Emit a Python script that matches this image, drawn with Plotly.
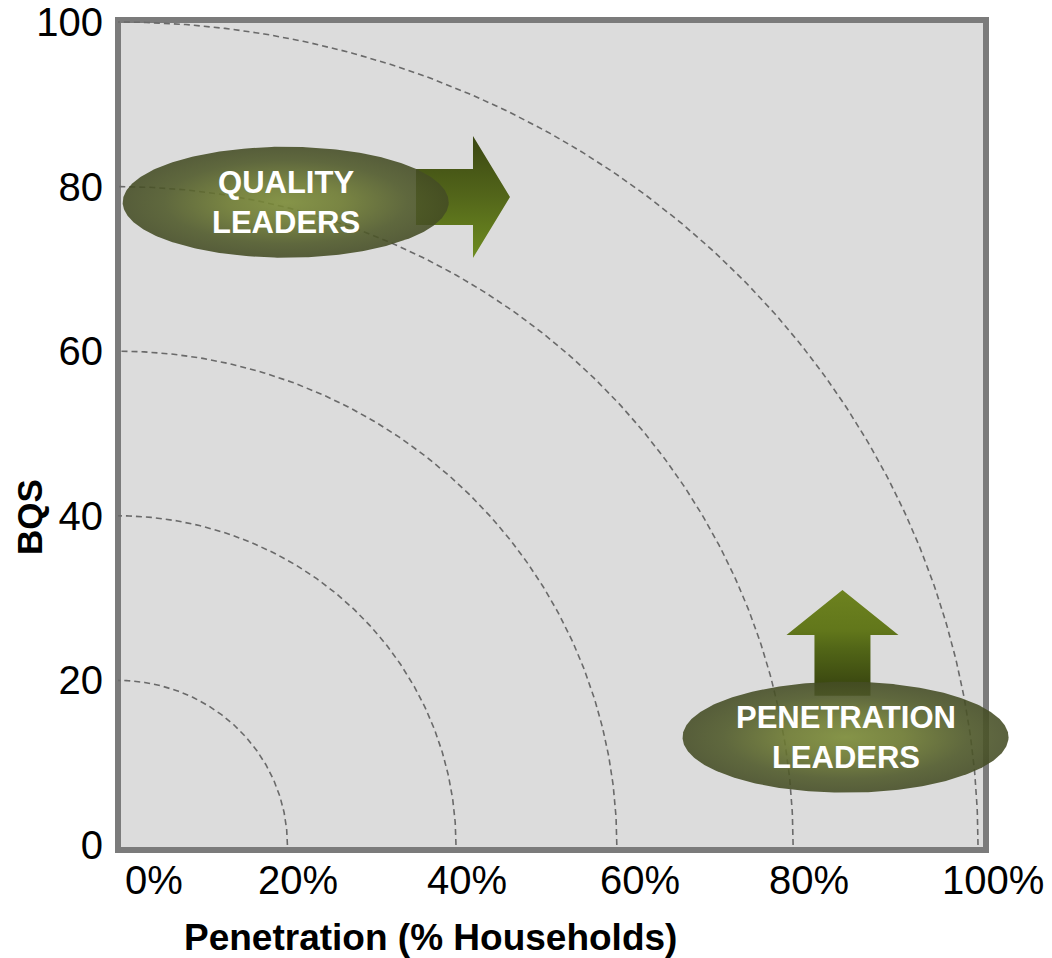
import numpy as np
import plotly.graph_objects as go

# ---------------- data ----------------
arc_levels = [20, 40, 60, 80, 100]                 # iso-lines (BQS value where each arc meets the y axis)
arc_x_reach = [19.7, 39.3, 58.0, 78.5, 100.0]      # penetration (%) where each arc meets the x axis
x_tick_values = [0, 20, 40, 60, 80, 100]
x_tick_labels = ["0%", "20%", "40%", "60%", "80%", "100%"]
y_tick_values = [0, 20, 40, 60, 80, 100]
y_tick_labels = ["0", "20", "40", "60", "80", "100"]

group_names = ["QUALITY<br>LEADERS", "PENETRATION<br>LEADERS"]
group_pen = [19.5, 84.6]      # centre, penetration %
group_bqs = [78.1, 13.1]      # centre, BQS

# arrows: (start, end) along their direction
quality_arrow_pen = [34.65, 45.58]   # horizontal arrow, from -> to (penetration)
quality_arrow_bqs = 78.74
pen_arrow_bqs = [18.14, 30.98]       # vertical arrow, from -> to (BQS)
pen_arrow_pen = 84.24

# ---------------- geometry / scales ----------------
W, H = 1052, 958
ML, MR, MT, MB = 118, 12, 20, 108
PX_X = 8.6      # px per penetration unit
PX_Y = 8.23     # px per BQS unit
pw, ph = W - ML - MR, H - MT - MB
x_range = [0, pw / PX_X]
y_min = -5 / PX_Y
y_range = [y_min, y_min + ph / PX_Y]
frame_right = 868 / PX_X

def px(xd):
    return (xd - x_range[0]) / (x_range[1] - x_range[0])

def py(yd):
    return (yd - y_range[0]) / (y_range[1] - y_range[0])

FONT = "Liberation Sans, Arial, sans-serif"

fig = go.Figure()

# iso arcs
theta = np.linspace(0, np.pi / 2, 240)
for lev, reach in zip(arc_levels, arc_x_reach):
    fig.add_trace(go.Scatter(
        x=reach * np.cos(theta), y=lev * np.sin(theta), mode="lines",
        line=dict(color="#6a6a6a", width=1.6, dash="6px,4px"),
        hoverinfo="skip", showlegend=False))

# arrows (behind ellipses)
bh, hh = 28 / PX_Y, 61 / PX_Y
x0, x1 = quality_arrow_pen
hb = x1 - 37 / PX_X
yc = quality_arrow_bqs
fig.add_trace(go.Scatter(
    x=[x0, hb, hb, x1, hb, hb, x0, x0],
    y=[yc - bh, yc - bh, yc - hh, yc, yc + hh, yc + bh, yc + bh, yc - bh],
    mode="lines", line=dict(width=0), fill="toself",
    fillgradient=dict(type="vertical", colorscale=[[0, "#6e8c20"], [0.5, "#53661a"], [1, "#3a4612"]]),
    hoverinfo="skip", showlegend=False))

bw, hw = 28 / PX_X, 56 / PX_X
y0, y1 = pen_arrow_bqs
hby = y1 - 45 / PX_Y
xc = pen_arrow_pen
fig.add_trace(go.Scatter(
    x=[xc - bw, xc - bw, xc - hw, xc, xc + hw, xc + bw, xc + bw, xc - bw],
    y=[y0, hby, hby, y1, hby, hby, y0, y0],
    mode="lines", line=dict(width=0), fill="toself",
    fillgradient=dict(type="vertical",
                      colorscale=[[0, "#343f0e"], [0.45, "#526617"], [0.62, "#62771b"], [1, "#6d821f"]]),
    hoverinfo="skip", showlegend=False))

# ellipses
rx, ry = 163 / PX_X, 55.5 / PX_Y
t = np.linspace(0, 2 * np.pi, 361)
for cx, cy in zip(group_pen, group_bqs):
    fig.add_trace(go.Scatter(
        x=cx + rx * np.cos(t), y=cy + ry * np.sin(t),
        mode="lines", line=dict(width=0), fill="toself",
        fillgradient=dict(type="radial", colorscale=[
            [0, "rgba(124,140,56,0.9)"], [0.35, "rgba(110,123,50,0.9)"],
            [0.75, "rgba(78,88,40,0.88)"], [1, "rgba(68,76,36,0.88)"]]),
        hoverinfo="skip", showlegend=False))

annotations = []
for name, cx, cy in zip(group_names, group_pen, group_bqs):
    annotations.append(dict(
        x=cx, y=cy, xref="x", yref="y", text=name, showarrow=False,
        font=dict(family=FONT, size=31, color="white", weight="bold"),
        xanchor="center", yanchor="middle", align="center"))

# x tick labels (edge labels nudged as in the reference)
nudges = [35.5, 7.5, 5, 6, 3, 14.5]
for v, lab, nd in zip(x_tick_values, x_tick_labels, nudges):
    annotations.append(dict(
        x=v, y=py(y_range[0]) - 30 / ph, xref="x", yref="paper", text=lab,
        showarrow=False, xshift=nd, xanchor="center", yanchor="middle",
        font=dict(family=FONT, size=40, color="black")))

annotations.append(dict(
    x=(430 - ML) / pw, y=(MT + ph - 937) / ph, xref="paper", yref="paper",
    text="Penetration (% Households)", showarrow=False, xanchor="center", yanchor="middle",
    font=dict(family=FONT, size=37, color="black", weight="bold")))
annotations.append(dict(
    x=(29 - ML) / pw, y=(MT + ph - 517) / ph, xref="paper", yref="paper",
    text="BQS", showarrow=False, textangle=-90, xanchor="center", yanchor="middle",
    font=dict(family=FONT, size=35, color="black", weight="bold")))

shapes = [dict(
    type="rect", xref="paper", yref="paper", layer="below",
    x0=px(0), x1=px(frame_right), y0=0, y1=1,
    fillcolor="#dcdcdc", line=dict(color="#7b7b7b", width=6))]

fig.update_layout(
    width=W, height=H, margin=dict(l=ML, r=MR, t=MT, b=MB, autoexpand=False),
    paper_bgcolor="white", plot_bgcolor="rgba(0,0,0,0)",
    showlegend=False, shapes=shapes, annotations=annotations,
    xaxis=dict(range=x_range, showgrid=False, zeroline=False, showline=False,
               showticklabels=False, ticks="", fixedrange=True, automargin=False),
    yaxis=dict(range=y_range, showgrid=False, zeroline=False, showline=False,
               tickvals=y_tick_values, ticktext=y_tick_labels, ticks="",
               ticklabelstandoff=14, automargin=False,
               tickfont=dict(family=FONT, size=40, color="black"), fixedrange=True),
)

fig.write_html("out.html")
